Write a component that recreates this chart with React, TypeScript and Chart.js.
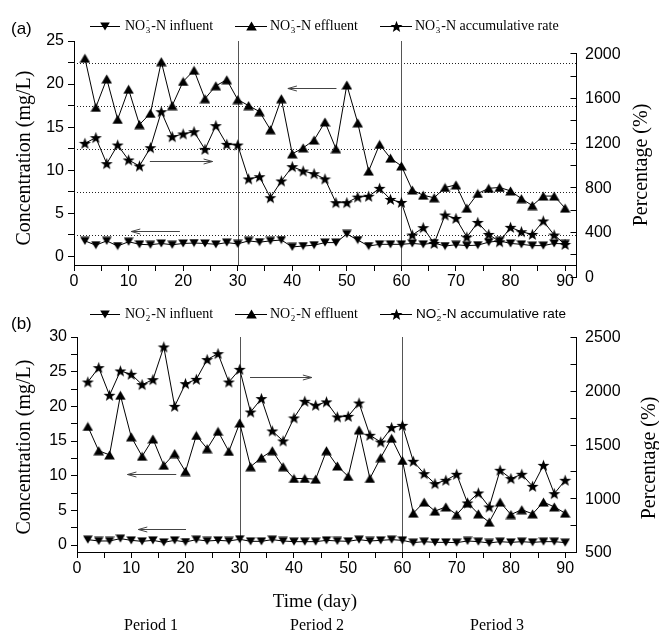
import React, { useEffect, useRef } from "react";
import { Chart, registerables } from "chart.js";

Chart.register(...registerables);

// ---------- data ----------
const DAYS = [2, 4, 6, 8, 10, 12, 14, 16, 18, 20, 22, 24, 26, 28, 30, 32, 34, 36, 38, 40, 42, 44, 46, 48, 50, 52, 54, 56, 58, 60, 62, 64, 66, 68, 70, 72, 74, 76, 78, 80, 82, 84, 86, 88, 90];

const A_INFLUENT = [1.8, 1.3, 1.8, 1.2, 1.7, 1.4, 1.35, 1.5, 1.35, 1.5, 1.55, 1.5, 1.4, 1.6, 1.45, 1.8, 1.65, 1.8, 1.9, 1.1, 1.2, 1.3, 1.6, 1.6, 2.6, 1.9, 1.2, 1.4, 1.4, 1.4, 1.5, 1.4, 1.55, 1.2, 1.35, 1.25, 1.3, 1.65, 1.8, 1.5, 1.4, 1.25, 1.25, 1.5, 1.45];
const A_EFFLUENT = [23.0, 17.3, 20.6, 15.9, 19.4, 15.3, 16.6, 22.6, 17.5, 20.3, 21.6, 18.3, 19.8, 20.5, 18.2, 17.5, 16.8, 14.7, 18.3, 11.9, 12.6, 13.5, 15.6, 12.5, 19.9, 15.5, 9.9, 13.0, 11.4, 10.5, 7.7, 7.1, 6.8, 8.0, 8.3, 5.6, 7.3, 7.9, 8.0, 7.6, 6.7, 5.9, 7.0, 7.0, 5.6];
const A_RATE = [1194, 1245, 1012, 1179, 1045, 991, 1155, 1477, 1253, 1278, 1298, 1140, 1352, 1185, 1179, 875, 895, 707, 857, 985, 946, 922, 875, 663, 663, 713, 720, 791, 692, 665, 373, 439, 298, 552, 522, 355, 486, 379, 313, 442, 403, 379, 499, 373, 289];

const B_INFLUENT = [0.78, 0.59, 0.59, 0.93, 0.68, 0.54, 0.68, 0.39, 0.68, 0.44, 0.78, 0.59, 0.68, 0.59, 0.83, 0.54, 0.54, 0.78, 0.59, 0.49, 0.49, 0.49, 0.68, 0.59, 0.54, 0.78, 0.59, 0.68, 0.78, 0.68, 0.35, 0.49, 0.39, 0.39, 0.35, 0.59, 0.49, 0.3, 0.49, 0.39, 0.49, 0.39, 0.49, 0.49, 0.35];
const B_EFFLUENT = [17.1, 13.6, 13.0, 21.6, 15.6, 12.8, 15.3, 11.5, 13.2, 10.6, 15.8, 13.9, 16.4, 13.5, 17.6, 11.3, 12.6, 13.6, 11.3, 9.6, 9.6, 9.5, 13.6, 11.4, 9.9, 16.6, 9.6, 12.6, 15.4, 12.2, 4.6, 6.2, 4.9, 5.5, 4.4, 6.1, 4.5, 3.3, 6.2, 4.4, 5.1, 4.5, 6.2, 5.5, 4.6];
const B_RATE = [2081, 2215, 1958, 2184, 2153, 2057, 2103, 2407, 1855, 2066, 2106, 2290, 2345, 2081, 2199, 1802, 1927, 1626, 1533, 1747, 1902, 1865, 1896, 1756, 1762, 1886, 1586, 1523, 1657, 1678, 1344, 1229, 1136, 1167, 1223, 956, 1049, 919, 1260, 1183, 1223, 1111, 1306, 1043, 1167];

const X_TICKS = [0, 5, 10, 15, 20, 25, 30, 35, 40, 45, 50, 55, 60, 65, 70, 75, 80, 85, 90];
const A_LEFT_TICKS = [0, 2.5, 5, 7.5, 10, 12.5, 15, 17.5, 20, 22.5, 25];
const A_RIGHT_TICKS = [0, 200, 400, 600, 800, 1000, 1200, 1400, 1600, 1800, 2000];
const A_RIGHT_LABELS = [0, 400, 800, 1200, 1600, 2000];
const A_DOTTED = [2.5, 7.5, 12.5, 17.5, 22.5];
const B_LEFT_TICKS = [0, 2.5, 5, 7.5, 10, 12.5, 15, 17.5, 20, 22.5, 25, 27.5, 30];
const B_RIGHT_TICKS = [500, 750, 1000, 1250, 1500, 1750, 2000, 2250, 2500];
const B_RIGHT_LABELS = [500, 1000, 1500, 2000, 2500];
const PERIOD_BOUNDS = [30, 60];
const PERIOD_NAMES = ["Period 1", "Period 2", "Period 3"];

// arrows in data coordinates (left axis values): from -> to (head at "to")
const A_ARROWS = [
  { from: 48.1, to: 39.2, y: 19.6 },
  { from: 13.9, to: 25.4, y: 11.06 },
  { from: 19.4, to: 10.5, y: 2.93 },
];
const B_ARROWS = [
  { from: 31.9, to: 43.3, y: 24.2 },
  { from: 18.3, to: 9.3, y: 10.3 },
  { from: 20.1, to: 11.3, y: 2.3 },
];

const W = 659;
const SANS = '"Liberation Sans", Arial, sans-serif';
const SERIF = '"Liberation Serif", "Times New Roman", serif';

// ---------- markers ----------
function makeMarker(kind: string): HTMLCanvasElement {
  const c = document.createElement("canvas");
  const ctx = c.getContext("2d")!;
  ctx.fillStyle = "#000";
  if (kind === "up") {
    c.width = 11; c.height = 10;
    ctx.fillStyle = "#000";
    ctx.beginPath(); ctx.moveTo(5.5, 0.5); ctx.lineTo(10.8, 9.5); ctx.lineTo(0.2, 9.5); ctx.closePath(); ctx.fill();
  } else if (kind === "down") {
    c.width = 10; c.height = 9;
    ctx.fillStyle = "#000";
    ctx.beginPath(); ctx.moveTo(0.2, 0.5); ctx.lineTo(9.8, 0.5); ctx.lineTo(5, 8.5); ctx.closePath(); ctx.fill();
  } else {
    c.width = 13; c.height = 13;
    ctx.fillStyle = "#000";
    const cx = 6.5, cy = 7, R = 6.3, r = 2.6;
    ctx.beginPath();
    for (let i = 0; i < 10; i++) {
      const ang = -Math.PI / 2 + (i * Math.PI) / 5;
      const rad = i % 2 === 0 ? R : r;
      const px = cx + rad * Math.cos(ang), py = cy + rad * Math.sin(ang);
      if (i === 0) ctx.moveTo(px, py); else ctx.lineTo(px, py);
    }
    ctx.closePath(); ctx.fill();
  }
  return c;
}

function drawChem(ctx: CanvasRenderingContext2D, x: number, y: number, sub: string, rest: string, family: string, size: number) {
  ctx.textAlign = "left";
  ctx.textBaseline = "middle";
  ctx.font = `${size}px ${family}`;
  ctx.fillText("NO", x, y);
  let cx = x + ctx.measureText("NO").width;
  const small = Math.round(size * 0.62);
  ctx.font = `${small}px ${family}`;
  ctx.fillText("-", cx + 1, y - size * 0.38);
  ctx.fillText(sub, cx + 0.5, y + size * 0.32);
  cx += Math.max(ctx.measureText(sub).width, ctx.measureText("-").width) + 1.5;
  ctx.font = `${size}px ${family}`;
  ctx.fillText(rest, cx, y);
}

type Panel = {
  height: number;
  area: { left: number; top: number; right: number; bottom: number };
  yMin: number; yMax: number; y1Min: number; y1Max: number;
  leftTicks: number[]; rightTicks: number[]; rightLabels: number[];
  dotted: number[];
  arrows: { from: number; to: number; y: number }[];
  influent: number[]; effluent: number[]; rate: number[];
  sub: string; label: string; labelY: number; legendY: number; thirdFamily: string; thirdSize: number; thirdTx: number;
  leftTitle: { x: number; y: number }; rightTitle: { x: number; y: number };
  bottomTexts: boolean;
};

const PANEL_A: Panel = {
  height: 290,
  area: { left: 74, top: 41, right: 576, bottom: 265 },
  yMin: -1, yMax: 25, y1Min: 105, y1Max: 2110,
  leftTicks: A_LEFT_TICKS, rightTicks: A_RIGHT_TICKS, rightLabels: A_RIGHT_LABELS,
  dotted: A_DOTTED, arrows: A_ARROWS,
  influent: A_INFLUENT, effluent: A_EFFLUENT, rate: A_RATE,
  sub: "3", label: "(a)", labelY: 29, legendY: 26, thirdFamily: SERIF, thirdSize: 14, thirdTx: 415,
  leftTitle: { x: 25, y: 158 }, rightTitle: { x: 642, y: 165 },
  bottomTexts: false,
};

const PANEL_B: Panel = {
  height: 345,
  area: { left: 77, top: 47, right: 576, bottom: 262 },
  yMin: -1, yMax: 30, y1Min: 500, y1Max: 2500,
  leftTicks: B_LEFT_TICKS, rightTicks: B_RIGHT_TICKS, rightLabels: B_RIGHT_LABELS,
  dotted: [], arrows: B_ARROWS,
  influent: B_INFLUENT, effluent: B_EFFLUENT, rate: B_RATE,
  sub: "2", label: "(b)", labelY: 34, legendY: 24, thirdFamily: SANS, thirdSize: 13.5, thirdTx: 416,
  leftTitle: { x: 25, y: 157 }, rightTitle: { x: 650, y: 168 },
  bottomTexts: true,
};

function buildChart(canvas: HTMLCanvasElement, p: Panel) {
  const mDown = makeMarker("down");
  const mUp = makeMarker("up");
  const mStar = makeMarker("star");
  const pts = (arr: number[]) => DAYS.map((d, i) => ({ x: d, y: arr[i] }));

  const overlay = {
    id: "overlay",
    beforeDatasetsDraw(chart: any) {
      const { ctx, chartArea } = chart;
      const xs = chart.scales.x, ys = chart.scales.y;
      ctx.save();
      ctx.lineWidth = 1;
      ctx.strokeStyle = "#222";
      ctx.setLineDash([1, 2]);
      for (const v of p.dotted) {
        const y = Math.round(ys.getPixelForValue(v)) + 0.5;
        ctx.beginPath(); ctx.moveTo(chartArea.left, y); ctx.lineTo(chartArea.right, y); ctx.stroke();
      }
      ctx.setLineDash([]);
      ctx.strokeStyle = "#555";
      for (const d of PERIOD_BOUNDS) {
        const x = Math.round(xs.getPixelForValue(d)) + 0.5;
        ctx.beginPath(); ctx.moveTo(x, chartArea.top); ctx.lineTo(x, chartArea.bottom); ctx.stroke();
      }
      ctx.restore();
    },
    afterDatasetsDraw(chart: any) {
      const { ctx } = chart;
      const xs = chart.scales.x, ys = chart.scales.y;
      ctx.save();
      ctx.strokeStyle = "#444";
      ctx.lineWidth = 1;
      for (const a of p.arrows) {
        const y = Math.round(ys.getPixelForValue(a.y)) + 0.5;
        const x1 = xs.getPixelForValue(a.from), x2 = xs.getPixelForValue(a.to);
        const dir = Math.sign(x2 - x1);
        ctx.beginPath(); ctx.moveTo(x1, y); ctx.lineTo(x2, y); ctx.stroke();
        ctx.beginPath();
        ctx.moveTo(x2 - dir * 9, y - 2.5); ctx.lineTo(x2, y); ctx.lineTo(x2 - dir * 9, y + 2.5);
        ctx.stroke();
      }
      ctx.restore();
    },
    afterDraw(chart: any) {
      const { ctx, chartArea } = chart;
      const y1 = chart.scales.y1;
      ctx.save();
      // right axis
      const rx = Math.round(chartArea.right) + 0.5;
      const rTop = y1.getPixelForValue(p.rightTicks[p.rightTicks.length - 1]);
      const rBot = y1.getPixelForValue(p.rightTicks[0]);
      ctx.strokeStyle = "#000"; ctx.lineWidth = 1;
      ctx.beginPath(); ctx.moveTo(rx, Math.round(rTop)); ctx.lineTo(rx, Math.round(rBot) + 1); ctx.stroke();
      for (const v of p.rightTicks) {
        const y = Math.round(y1.getPixelForValue(v)) + 0.5;
        ctx.beginPath(); ctx.moveTo(rx - 6, y); ctx.lineTo(rx, y); ctx.stroke();
      }
      ctx.fillStyle = "#000";
      ctx.font = `16px ${SANS}`;
      ctx.textAlign = "left"; ctx.textBaseline = "middle";
      for (const v of p.rightLabels) {
        ctx.fillText(String(v), rx + 8.5, y1.getPixelForValue(v) + 1);
      }
      // axis titles
      ctx.font = `20px ${SERIF}`;
      ctx.textAlign = "center"; ctx.textBaseline = "middle";
      ctx.save(); ctx.translate(p.leftTitle.x, p.leftTitle.y); ctx.rotate(-Math.PI / 2);
      ctx.fillText("Concentration (mg/L)", 0, 0); ctx.restore();
      ctx.save(); ctx.translate(p.rightTitle.x, p.rightTitle.y); ctx.rotate(-Math.PI / 2);
      ctx.fillText("Percentage (%)", 0, 0); ctx.restore();
      // panel label
      ctx.font = `17px ${SANS}`;
      ctx.textAlign = "left";
      ctx.fillText(p.label, 11, p.labelY);
      // legend
      const ly = p.legendY;
      const items = [
        { x0: 90, x1: 120, tx: 125, m: mDown, rest: "-N influent", fam: SERIF, size: 14 },
        { x0: 235, x1: 267, tx: 270, m: mUp, rest: "-N effluent", fam: SERIF, size: 14 },
        { x0: 380, x1: 412, tx: p.thirdTx, m: mStar, rest: "-N accumulative rate", fam: p.thirdFamily, size: p.thirdSize },
      ];
      for (const it of items) {
        ctx.strokeStyle = "#000"; ctx.lineWidth = 1;
        ctx.beginPath(); ctx.moveTo(it.x0, Math.round(ly) + 0.5); ctx.lineTo(it.x1, Math.round(ly) + 0.5); ctx.stroke();
        const cx = (it.x0 + it.x1) / 2;
        ctx.drawImage(it.m, Math.round(cx - it.m.width / 2), Math.round(ly - it.m.height / 2));
        drawChem(ctx, it.tx, ly, p.sub, it.rest, it.fam, it.size);
      }
      if (p.bottomTexts) {
        ctx.fillStyle = "#000";
        ctx.textAlign = "center"; ctx.textBaseline = "middle";
        ctx.font = `19px ${SERIF}`;
        ctx.fillText("Time (day)", 315, 312);
        ctx.font = `16px ${SERIF}`;
        const px = [151, 317, 497];
        PERIOD_NAMES.forEach((t, i) => ctx.fillText(t, px[i], 336));
      }
      ctx.restore();
    },
  };

  const tickFont = { family: SANS, size: 16 };
  return new Chart(canvas, {
    type: "line",
    data: {
      datasets: [
        { label: "influent", data: pts(p.influent), yAxisID: "y", borderColor: "#000", borderWidth: 1, pointStyle: mDown as any, pointRadius: 5, backgroundColor: "#000" },
        { label: "effluent", data: pts(p.effluent), yAxisID: "y", borderColor: "#000", borderWidth: 1, pointStyle: mUp as any, pointRadius: 5, backgroundColor: "#000" },
        { label: "rate", data: pts(p.rate), yAxisID: "y1", borderColor: "#000", borderWidth: 1, pointStyle: mStar as any, pointRadius: 6, backgroundColor: "#000" },
      ],
    },
    options: {
      animation: false,
      responsive: false,
      maintainAspectRatio: false,
      devicePixelRatio: 1,
      layout: { padding: { left: 0, top: p.area.top, right: W - p.area.right, bottom: 0 } },
      plugins: { legend: { display: false }, tooltip: { enabled: false } },
      scales: {
        x: {
          type: "linear", min: 0, max: 92, position: "bottom",
          afterBuildTicks: (s: any) => { s.ticks = X_TICKS.map((v) => ({ value: v })); },
          afterFit: (s: any) => { s.height = p.height - p.area.bottom; },
          ticks: { callback: (v: any) => (Number(v) % 10 === 0 ? String(v) : ""), font: tickFont, color: "#000", padding: 1, maxRotation: 0, autoSkip: false },
          grid: { drawOnChartArea: false, drawTicks: true, tickLength: 6, tickColor: "#000", color: "#000" },
          border: { color: "#000", width: 1 },
        },
        y: {
          type: "linear", min: p.yMin, max: p.yMax, position: "left",
          afterBuildTicks: (s: any) => { s.ticks = p.leftTicks.map((v) => ({ value: v })); },
          afterFit: (s: any) => { s.width = p.area.left; },
          ticks: { callback: (v: any) => (Number(v) % 5 === 0 ? String(v) : ""), font: tickFont, color: "#000", padding: 4, autoSkip: false },
          grid: { drawOnChartArea: false, drawTicks: true, tickLength: 6, tickColor: "#000", color: "#000" },
          border: { color: "#000", width: 1 },
        },
        y1: { type: "linear", min: p.y1Min, max: p.y1Max, position: "right", display: false },
      },
    } as any,
    plugins: [overlay as any],
  });
}

export default function App() {
  const refA = useRef<HTMLCanvasElement>(null);
  const refB = useRef<HTMLCanvasElement>(null);
  useEffect(() => {
    const a = buildChart(refA.current!, PANEL_A);
    const b = buildChart(refB.current!, PANEL_B);
    return () => { a.destroy(); b.destroy(); };
  }, []);
  return (
    <div style={{ position: "absolute", left: 0, top: 0, width: W, height: 635, background: "#fff" }}>
      <canvas ref={refA} width={W} height={290} style={{ position: "absolute", left: 0, top: 0 }} />
      <canvas ref={refB} width={W} height={345} style={{ position: "absolute", left: 0, top: 290 }} />
    </div>
  );
}
